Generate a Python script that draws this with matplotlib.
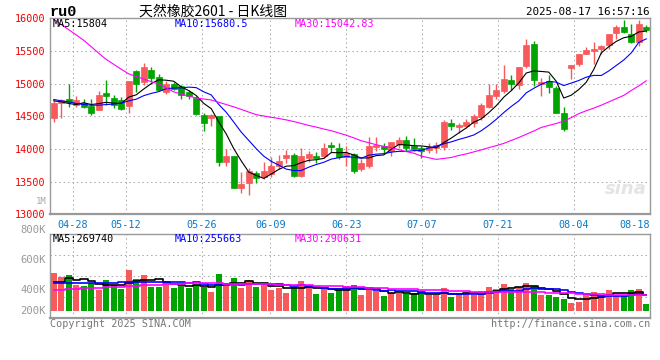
import matplotlib
matplotlib.use('Agg')
import matplotlib.pyplot as plt
import numpy as np
import pandas as pd
from matplotlib.transforms import blended_transform_factory

# daily bars, ru0
dates = ['04-23', '04-24', '04-25', '04-28', '04-29', '04-30',
         '05-06', '05-07', '05-08', '05-09', '05-12', '05-13', '05-14', '05-15', '05-16',
         '05-19', '05-20', '05-21', '05-22', '05-23', '05-26', '05-27', '05-28', '05-29', '05-30',
         '06-03', '06-04', '06-05', '06-06', '06-09', '06-10', '06-11', '06-12', '06-13',
         '06-16', '06-17', '06-18', '06-19', '06-20', '06-23', '06-24', '06-25', '06-26', '06-27',
         '06-30', '07-01', '07-02', '07-03', '07-04', '07-07', '07-08', '07-09', '07-10', '07-11',
         '07-14', '07-15', '07-16', '07-17', '07-18', '07-21', '07-22', '07-23', '07-24', '07-25',
         '07-28', '07-29', '07-30', '07-31', '08-01', '08-04', '08-05', '08-06', '08-07', '08-08',
         '08-11', '08-12', '08-13', '08-14', '08-15', '08-18']

opens = [14477, 14696, 14762, 14680, 14696, 14655, 14594, 14859, 14782, 14747,
         14655, 15190, 15027, 15205, 15103, 14874, 15001, 14961, 14874, 14787,
         14518, 14467, 14502, 13805, 13892, 13408, 13484, 13627, 13575, 13617,
         13744, 13856, 13907, 13586, 13866, 13892, 13892, 14060, 14009, 13871,
         13917, 13693, 13744, 14024, 14044, 13973, 14075, 14136, 14044, 14019,
         13983, 14009, 14024, 14390, 14340, 14350, 14390, 14482, 14635, 14813,
         14884, 15052, 14986, 15271, 15602, 15001, 15037, 14935, 14558, 15240,
         15296, 15449, 15505, 15530, 15587, 15775, 15866, 15755, 15638, 15866]
highs = [14757, 14762, 14991, 14813, 14762, 14772, 14884, 15062, 14823, 14798,
         15037, 15205, 15317, 15256, 15144, 15042, 15027, 14976, 14910, 14808,
         14543, 14528, 14502, 13993, 13892, 13652, 13703, 13668, 13805, 13881,
         13907, 13983, 13932, 14009, 13973, 13958, 14095, 14100, 14095, 14044,
         13942, 13841, 14187, 14187, 14095, 14110, 14177, 14197, 14161, 14044,
         14095, 14100, 14451, 14457, 14390, 14457, 14533, 14696, 15001, 15001,
         15281, 15128, 15256, 15678, 15653, 15093, 15128, 14961, 14645, 15281,
         15459, 15561, 15637, 15587, 15755, 15892, 15968, 15917, 15968, 15892]
lows = [14416, 14477, 14635, 14635, 14620, 14518, 14594, 14670, 14620, 14604,
        14543, 14874, 14976, 15022, 14899, 14838, 14899, 14772, 14772, 14518,
        14273, 14350, 13744, 13744, 13408, 13332, 13296, 13474, 13535, 13576,
        13693, 13780, 13566, 13566, 13805, 13790, 13856, 13947, 13841, 13744,
        13637, 13668, 13703, 13973, 13917, 13892, 14019, 13973, 13968, 13866,
        13932, 13932, 13983, 14289, 14238, 14314, 14329, 14451, 14620, 14772,
        14859, 14899, 14925, 15240, 14966, 14808, 14859, 14543, 14273, 15078,
        15271, 15449, 15307, 15459, 15536, 15688, 15775, 15622, 15571, 15790]
closes = [14696, 14747, 14716, 14747, 14635, 14553, 14823, 14813, 14680, 14614,
          15037, 15001, 15256, 15093, 14910, 15001, 14925, 14823, 14808, 14533,
          14401, 14518, 13805, 13892, 13408, 13464, 13662, 13550, 13662, 13744,
          13820, 13907, 13591, 13892, 13922, 13866, 14009, 14034, 13882, 13942,
          13667, 13780, 14044, 14060, 13993, 14100, 14136, 14019, 14004, 13973,
          14034, 14060, 14416, 14350, 14365, 14416, 14502, 14670, 14823, 14900,
          15067, 15001, 15256, 15587, 15062, 15027, 14950, 14553, 14304, 15281,
          15459, 15510, 15530, 15571, 15755, 15866, 15790, 15638, 15907, 15826]

# moving averages that need data from before the window
ma5_head = [14737, 14721, 14696, 14680]
ma10_head = [14757, 14737, 14721, 14696, 14680, 14670, 14670, 14680, 14686]
ma30 = [15985, 15905, 15825, 15745, 15663, 15565, 15465, 15370, 15295, 15220,
        15150, 15110, 15070, 15030, 14995, 14935, 14874, 14840, 14810, 14780,
        14765, 14750, 14715, 14680, 14645, 14605, 14565, 14525, 14505, 14485,
        14467, 14445, 14420, 14390, 14360, 14335, 14305, 14280, 14245, 14210,
        14170, 14126, 14095, 14065, 14040, 14020, 13990, 13960, 13935, 13892,
        13865, 13841, 13855, 13870, 13900, 13925, 13955, 13985, 14020, 14050,
        14085, 14130, 14175, 14225, 14275, 14329, 14360, 14390, 14425, 14480,
        14540, 14585, 14625, 14670, 14720, 14770, 14820, 14895, 14965, 15043]

# volume panel, in K as the panel axis is labelled
volumes = [516, 489, 500, 433, 427, 449, 400, 467, 433, 409,
           533, 473, 500, 422, 422, 451, 416, 444, 416, 433,
           422, 389, 507, 438, 482, 416, 467, 422, 433, 400,
           416, 382, 422, 460, 422, 373, 404, 382, 416, 427,
           433, 367, 411, 393, 360, 382, 382, 371, 378, 371,
           367, 367, 416, 356, 367, 382, 367, 393, 422, 407,
           440, 407, 422, 447, 427, 367, 367, 356, 340, 316,
           322, 367, 389, 367, 400, 367, 367, 400, 407, 307]
vol_ma5_head = [456, 456, 478, 467]
vol_ma10_head = [449, 449, 449, 447, 447, 444, 444, 444, 444]
vol_ma30 = [400, 400, 407, 407, 411, 411, 414, 418, 420, 422,
            427, 429, 433, 433, 436, 438, 440, 442, 444, 444,
            444, 444, 444, 440, 438, 440, 440, 438, 438, 438,
            431, 431, 431, 431, 431, 424, 424, 424, 424, 422,
            418, 418, 413, 413, 413, 407, 407, 407, 407, 400,
            400, 398, 398, 391, 391, 391, 387, 387, 387, 387,
            384, 384, 384, 384, 384, 384, 380, 380, 380, 380,
            371, 371, 371, 371, 369, 369, 369, 369, 369, 369]

date_labels = ['04-28', '05-12', '05-26', '06-09', '06-23', '07-07', '07-21', '08-04', '08-18']
price_ticks = [13000, 13500, 14000, 14500, 15000, 15500, 16000]
vol_labels = ['800K', '600K', '400K', '200K']
vol_label_values = [800, 600, 400, 260]
ma_text = ['MA5:15804', 'MA10:15680.5', 'MA30:15042.83']
vol_ma_text = ['MA5:269740', 'MA10:255663', 'MA30:290631']

RED = '#f65a5a'
GREEN = '#00a300'
GRID = '#aaaaaa'
FRAME = '#999999'
MONO = 'DejaVu Sans Mono'
MA_COLORS = ['black', '#0000ff', '#ff00ff']
DOTS = (0, (1.4, 2.8))

W, H = 660, 360


def box(left, top, right, bottom):
    return [left / W, 1 - bottom / H, (right - left) / W, (bottom - top) / H]


def with_head(values, n, head):
    out = pd.Series(values, dtype=float).rolling(n).mean().to_numpy()
    out[:len(head)] = head
    return out


n = len(closes)
x = np.arange(n)
o = np.array(opens, float)
c = np.array(closes, float)
cols = [RED if c[i] >= o[i] else GREEN for i in range(n)]
# sina spreads the date grid over n-1 steps across the full width
grid_pos = [dates.index(d) * n / (n - 1) - 0.5 for d in date_labels]

fig = plt.figure(figsize=(6.6, 3.6), dpi=100)
ax = fig.add_axes(box(50, 18.3, 650, 214.3))
vax = fig.add_axes(box(50, 234, 650, 318))

# ---- price panel
for p in price_ticks[1:-1]:
    ax.axhline(p, color=GRID, lw=0.75, ls=DOTS, zorder=0)
for gp in grid_pos[:-1]:
    ax.axvline(gp, color=GRID, lw=0.75, ls=DOTS, zorder=0)

ax.vlines(x, lows, highs, colors=cols, lw=1, zorder=2)
ax.bar(x, np.abs(c - o), bottom=np.minimum(o, c), width=0.8, color=cols,
       edgecolor=cols, linewidth=0.5, zorder=2)

ma5 = with_head(closes, 5, ma5_head)
ma10 = with_head(closes, 10, ma10_head)
for line, col in zip([ma5, ma10, ma30], MA_COLORS):
    ax.plot(x, line, color=col, lw=0.8, zorder=3)

ax.set_xlim(-0.5, n - 0.5)
ax.set_ylim(13000, 16000)
ax.set_yticks(price_ticks)
ax.set_yticklabels([str(p) for p in price_ticks], color='#ee0000', fontsize=7.3, family=MONO)
ax.set_xticks(grid_pos)
ax.set_xticklabels(date_labels, color='#0a78c8', fontsize=7.3, family=MONO)
ax.get_xticklabels()[-1].set_horizontalalignment('right')
ax.tick_params(length=0, pad=3)
ax.tick_params(axis='x', pad=4)
for s in ax.spines.values():
    s.set_color(FRAME)
    s.set_linewidth(1)
ax.spines['bottom'].set_linewidth(1.6)

for txt, col, xp in zip(ma_text, MA_COLORS, [53, 175, 295]):
    ax.text((xp - 50) / 600, 0.97, txt, transform=ax.transAxes, color=col,
            fontsize=7.3, family=MONO, va='center')
ax.text(0.995, 0.13, 'sina', transform=ax.transAxes, ha='right', va='center',
        color='#e4e4e4', fontsize=13, style='italic', weight='bold', zorder=0)

# ---- volume panel
vtop, vbot = 773.3, 213.3
for f in [0.25, 0.5, 0.75]:
    vax.axhline(vtop - (vtop - vbot) * f, color=GRID, lw=0.75, ls=DOTS, zorder=0)
for gp in grid_pos[:-1]:
    vax.axvline(gp, color=GRID, lw=0.75, ls=DOTS, zorder=0)

vfloor = vol_label_values[-1]
vol = np.array(volumes, float)
vax.bar(x, vol - vfloor, bottom=vfloor, width=0.8, color=cols, zorder=2)
vma5 = with_head(volumes, 5, vol_ma5_head)
vma10 = with_head(volumes, 10, vol_ma10_head)
for line, col in zip([vma5, vma10, vol_ma30], MA_COLORS):
    vax.plot(x, line, color=col, lw=1.2, drawstyle='steps-mid', zorder=3)

vax.set_xlim(-0.5, n - 0.5)
vax.set_ylim(vbot, vtop)
vax.set_xticks([])
vax.set_yticks([])
for s in vax.spines.values():
    s.set_color(FRAME)
    s.set_linewidth(1)
vax.spines['bottom'].set_linewidth(1.6)
trans = blended_transform_factory(vax.transAxes, vax.transData)
for v, lab in zip(vol_label_values, vol_labels):
    vax.text(-0.007, v, lab, transform=trans, ha='right', va='center',
             color='#999999', fontsize=7.6, family=MONO, clip_on=False)
for txt, col, xp in zip(vol_ma_text, MA_COLORS, [53, 175, 295]):
    vax.text((xp - 50) / 600, 0.94, txt, transform=vax.transAxes, color=col,
             fontsize=7.3, family=MONO, va='center')

# ---- header / footer
fig.text(50 / W, 1 - 12 / H, 'ru0', fontsize=11, weight='bold', family='Liberation Mono', va='center')
fig.text(213 / W, 1 - 12 / H, '天然橡胶2601 - 日K线图', fontsize=10, ha='center', va='center',
         family=['Noto Sans CJK SC', 'DejaVu Sans'])
fig.text(649 / W, 1 - 12 / H, '2025-08-17 16:57:16', fontsize=7.8, ha='right', va='center', family=MONO)
fig.text(47 / W, 1 - 201 / H, '1M', fontsize=6.5, ha='right', va='center', color='#aaaaaa', family=MONO)
fig.text(50 / W, 1 - 324 / H, 'Copyright 2025 SINA.COM', fontsize=7.3, va='center', color='#777777', family=MONO)
fig.text(650 / W, 1 - 324 / H, 'http://finance.sina.com.cn', fontsize=7.3, ha='right', va='center',
         color='#777777', family=MONO)

fig.savefig('out.png', dpi=100)
